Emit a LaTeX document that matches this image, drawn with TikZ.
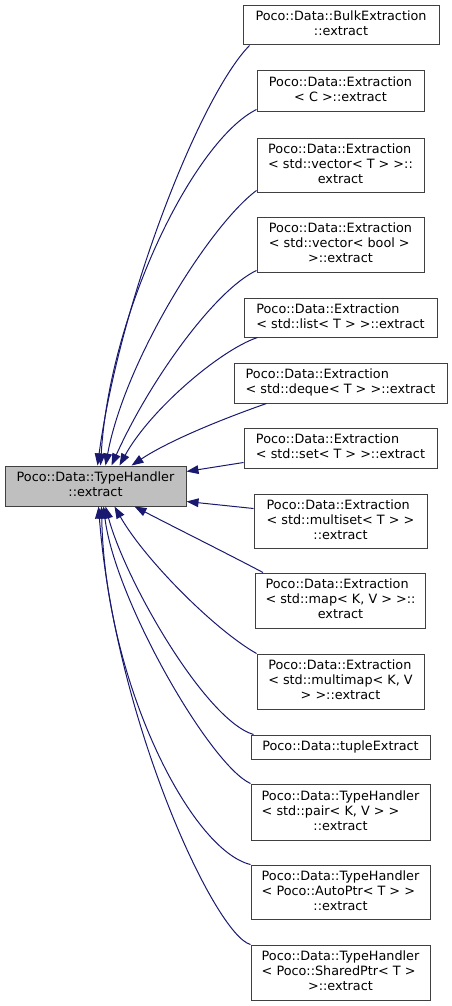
\documentclass[tikz,border=0pt]{standalone}
\usepackage{fontspec}
\setmainfont{DejaVu Sans}
\usetikzlibrary{arrows.meta,calc}
\definecolor{edgeblue}{HTML}{191970}
\definecolor{boxline}{HTML}{404040}
\definecolor{mainfill}{HTML}{BFBFBF}
\newcommand\lastl[1]{\multicolumn{1}{@{}c@{}}{#1}}
\begin{document}
\begin{tikzpicture}[x=0.75pt,y=-0.75pt,
  box/.style={draw=boxline, line width=0.75pt, fill=white, inner sep=0pt,
    font=\fontsize{9.6}{11.25}\selectfont},
  edge/.style={draw=edgeblue, line width=0.75pt, -{Triangle[length=9pt,width=6.5pt]}}]
\useasboundingbox (0,0) rectangle (452,1006);

\node[box, fill=mainfill, minimum width=135.75pt, minimum height=30pt] (main) at (95.5,486)
  {\begin{tabular}{@{}l@{}}Poco::Data::TypeHandler\\\lastl{::extract}\end{tabular}};

\node[box, minimum width=147pt, minimum height=29.25pt] (b1) at (341,25.5)
  {\begin{tabular}{@{}l@{}}Poco::Data::BulkExtraction\\\lastl{::extract}\end{tabular}};
\node[box, minimum width=125.25pt, minimum height=30pt] (b2) at (340.5,91)
  {\begin{tabular}{@{}l@{}}Poco::Data::Extraction\\\lastl{< C >::extract}\end{tabular}};
\node[box, minimum width=125.25pt, minimum height=40.5pt] (b3) at (340.5,165)
  {\begin{tabular}{@{}l@{}}Poco::Data::Extraction\\< std::vector< T > >::\\\lastl{extract}\end{tabular}};
\node[box, minimum width=125.25pt, minimum height=41.25pt] (b4) at (340.5,244.5)
  {\begin{tabular}{@{}l@{}}Poco::Data::Extraction\\< std::vector< bool >\\\lastl{>::extract}\end{tabular}};
\node[box, minimum width=144.75pt, minimum height=29.25pt] (b5) at (340.5,317.5)
  {\begin{tabular}{@{}l@{}}Poco::Data::Extraction\\\lastl{< std::list< T > >::extract}\end{tabular}};
\node[box, minimum width=159.75pt, minimum height=30pt] (b6) at (340.5,383)
  {\begin{tabular}{@{}l@{}}Poco::Data::Extraction\\\lastl{< std::deque< T > >::extract}\end{tabular}};
\node[box, minimum width=144.75pt, minimum height=30pt] (b7) at (340.5,448)
  {\begin{tabular}{@{}l@{}}Poco::Data::Extraction\\\lastl{< std::set< T > >::extract}\end{tabular}};
\node[box, minimum width=129.75pt, minimum height=40.5pt] (b8) at (340.5,521)
  {\begin{tabular}{@{}l@{}}Poco::Data::Extraction\\< std::multiset< T > >\\\lastl{::extract}\end{tabular}};
\node[box, minimum width=127.5pt, minimum height=41.25pt] (b9) at (340.5,600.5)
  {\begin{tabular}{@{}l@{}}Poco::Data::Extraction\\< std::map< K, V > >::\\\lastl{extract}\end{tabular}};
\node[box, minimum width=125.25pt, minimum height=41.25pt] (b10) at (340.5,681.5)
  {\begin{tabular}{@{}l@{}}Poco::Data::Extraction\\< std::multimap< K, V\\\lastl{> >::extract}\end{tabular}};
\node[box, minimum width=134.25pt, minimum height=18pt] (b11) at (340.5,747)
  {Poco::Data::tupleExtract};
\node[box, minimum width=134.25pt, minimum height=42pt] (b12) at (340.5,812)
  {\begin{tabular}{@{}l@{}}Poco::Data::TypeHandler\\< std::pair< K, V > >\\\lastl{::extract}\end{tabular}};
\node[box, minimum width=134.25pt, minimum height=40.5pt] (b13) at (340.5,892)
  {\begin{tabular}{@{}l@{}}Poco::Data::TypeHandler\\< Poco::AutoPtr< T > >\\\lastl{::extract}\end{tabular}};
\node[box, minimum width=134.25pt, minimum height=41.25pt] (b14) at (340.5,972.5)
  {\begin{tabular}{@{}l@{}}Poco::Data::TypeHandler\\< Poco::SharedPtr< T >\\\lastl{>::extract}\end{tabular}};

\draw[edge] ($(b1.south west)+(7,0)$) .. controls (200,96) and (120,300) .. ($(main.north west)+(93,0)$);
\draw[edge] ($(b2.south west)+(0,-2)$) .. controls (195,140) and (110,310) .. ($(main.north west)+(96,0)$);
\draw[edge] ($(b3.south west)+(0,-2)$) .. controls (210,225) and (125,360) .. ($(main.north west)+(101,0)$);
\draw[edge] ($(b4.south west)+(0,-2)$) .. controls (215,290) and (150,380) .. ($(main.north west)+(107,0)$);
\draw[edge] ($(b5.south west)+(14,0)$) .. controls (220,350) and (150,410) .. ($(main.north west)+(115,0)$);
\draw[edge] ($(b6.south west)+(33,0)$) .. controls (225,418) and (170,440) .. ($(main.north west)+(127,0)$);
\draw[edge] ($(b7.south west)+(0,-6)$) -- ($(main.north east)+(0,6)$);
\draw[edge] ($(b8.north west)+(0,15)$) -- ($(main.south east)+(0,-5)$);
\draw[edge] ($(b9.north west)+(8,0)$) .. controls (230,555) and (170,525) .. ($(main.south west)+(130,0)$);
\draw[edge] (b10.north west) .. controls (215,630) and (145,560) .. ($(main.south west)+(110,0)$);
\draw[edge] ($(b11.north west)+(3,0)$) .. controls (205,720) and (125,580) .. ($(main.south west)+(101,0)$);
\draw[edge] (b12.north west) .. controls (210,765) and (115,600) .. ($(main.south west)+(99,0)$);
\draw[edge] (b13.north west) .. controls (190,850) and (105,680) .. ($(main.south west)+(97,0)$);
\draw[edge] (b14.north west) .. controls (215,935) and (115,720) .. ($(main.south west)+(94,0)$);
\end{tikzpicture}
\end{document}
